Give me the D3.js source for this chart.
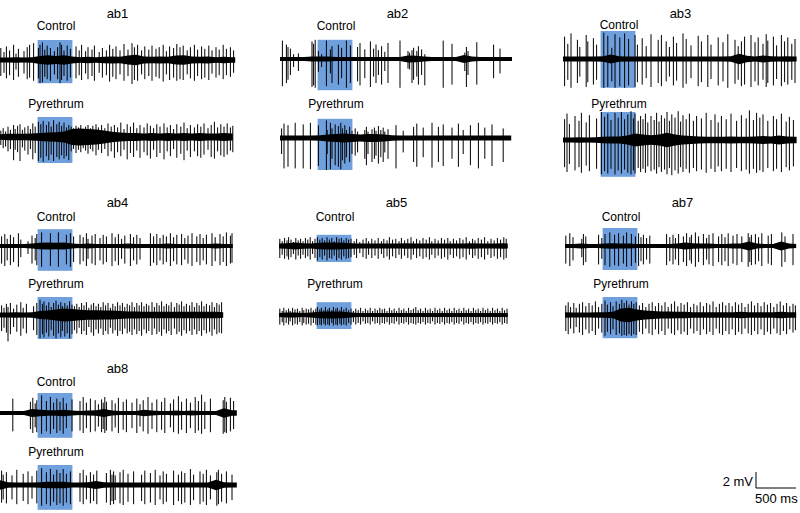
<!DOCTYPE html>
<html><head><meta charset="utf-8">
<script src="https://cdn.jsdelivr.net/npm/d3@7"></script>
<style>
body{margin:0;background:#fff}
svg{display:block}
text{font-family:"Liberation Sans",Arial,sans-serif;fill:#000}
</style>
</head><body><script>
// ---------------- DATA ----------------
// each spike: [time (s), positive peak (mV), negative peak (mV)]
// noise: half-width of baseline noise band (mV) sampled every 0.1 s
const panelNames = ["ab1","ab2","ab3","ab4","ab5","ab7","ab8"];
const conditionNames = ["Control","Pyrethrum"];
const stimWindow = [0.47, 0.905]; // s, highlighted window
const controlDuration   = [2.94,2.90,2.92,2.91,2.86,2.89,2.96];
const pyrethrumDuration = [2.91,2.89,2.92,2.79,2.86,2.89,2.96];
const controlBoxRange   = [[2.5,-2.9],[2.4,-3.9],[3.5,-3.6],[2.1,-3.1],[1.4,-2.0],[2.25,-3.0],[2.5,-3.1]];
const pyrethrumBoxRange = [[2.5,-3.25],[2.4,-4.0],[3.5,-4.6],[2.25,-3.0],[1.6,-1.75],[2.25,-2.9],[2.5,-3.1]];
const scaleBarMV = 2, scaleBarMS = 500;

const ab1CtrlSpikes = [[0.01,1.5,-2.0],[0.05,1.0,-1.6],[0.08,1.7,-2.3],[0.12,1.2,-1.9],[0.17,1.9,-2.5],[0.20,0.8,-1.2],[0.23,1.4,-2.1],[0.30,1.1,-1.7],[0.34,1.6,-2.4],[0.37,1.9,-2.2],[0.42,2.1,-2.6],[0.48,1.5,-2.3],[0.50,1.9,-2.9],[0.53,2.2,-2.8],[0.56,1.3,-2.1],[0.59,1.8,-2.4],[0.63,1.5,-2.6],[0.68,1.1,-1.8],[0.72,1.6,-2.4],[0.75,2.2,-2.9],[0.77,1.9,-2.5],[0.80,1.2,-2.0],[0.84,1.8,-2.6],[0.88,1.4,-2.2],[0.95,1.7,-2.3],[0.99,1.2,-1.9],[1.02,1.9,-2.5],[1.07,1.1,-1.7],[1.10,1.6,-2.4],[1.15,1.3,-2.0],[1.18,1.8,-2.6],[1.24,1.0,-1.6],[1.28,1.5,-2.2],[1.33,1.2,-1.9],[1.37,1.9,-2.7],[1.41,1.4,-2.1],[1.45,1.7,-2.4],[1.50,1.2,-1.8],[1.55,2.0,-2.6],[1.60,1.3,-2.0],[1.65,2.1,-3.0],[1.68,1.6,-2.5],[1.72,1.9,-2.6],[1.77,1.2,-1.8],[1.81,1.7,-2.4],[1.86,1.3,-2.0],[1.90,1.8,-2.6],[1.95,1.4,-2.1],[1.99,1.6,-2.3],[2.04,1.9,-2.7],[2.08,1.1,-1.8],[2.12,1.7,-2.5],[2.17,1.5,-2.2],[2.21,2.0,-2.6],[2.25,1.6,-2.4],[2.29,1.8,-2.5],[2.34,1.2,-1.8],[2.38,1.6,-2.3],[2.43,1.9,-2.6],[2.47,1.3,-2.0],[2.52,1.7,-2.4],[2.56,1.4,-2.2],[2.61,1.8,-2.5],[2.65,1.2,-1.7],[2.70,1.6,-2.2],[2.74,1.3,-1.9],[2.79,1.9,-2.4],[2.83,1.4,-1.9],[2.88,1.6,-2.1],[2.92,1.2,-1.6]];
const ab1CtrlNoise = [0.3,0.3,0.35,0.3,0.35,0.5,0.6,0.5,0.6,0.45,0.35,0.4,0.35,0.4,0.45,0.4,0.55,0.65,0.45,0.4,0.45,0.4,0.55,0.6,0.45,0.4,0.45,0.35,0.4,0.35];

const ab1PyrSpikes = [[0.01,0.8,-1.0],[0.04,1.1,-1.4],[0.07,0.7,-1.2],[0.10,1.3,-1.8],[0.13,0.9,-1.5],[0.17,1.5,-2.9],[0.19,1.0,-1.6],[0.22,1.4,-1.9],[0.25,1.6,-3.0],[0.28,0.9,-1.3],[0.31,1.2,-1.7],[0.35,1.4,-2.2],[0.38,1.0,-1.5],[0.41,1.7,-2.8],[0.44,1.3,-2.0],[0.48,1.9,-3.0],[0.51,1.6,-2.6],[0.54,2.0,-3.1],[0.58,1.5,-2.4],[0.61,1.9,-2.9],[0.64,1.3,-2.2],[0.67,2.1,-3.0],[0.71,1.6,-2.5],[0.74,1.9,-2.8],[0.77,1.4,-2.3],[0.80,1.8,-2.7],[0.83,1.2,-2.4],[0.86,1.5,-2.9],[0.89,1.3,-1.8],[0.92,1.1,-1.5],[0.95,1.4,-2.0],[0.98,1.2,-1.6],[1.01,1.5,-1.9],[1.04,1.0,-1.4],[1.07,1.3,-1.7],[1.10,1.5,-2.1],[1.13,1.1,-1.5],[1.16,1.4,-1.8],[1.20,1.6,-2.3],[1.23,1.2,-1.6],[1.27,1.5,-2.0],[1.31,1.1,-1.5],[1.35,1.7,-2.4],[1.39,1.3,-1.8],[1.43,1.5,-2.6],[1.47,1.2,-1.9],[1.51,1.8,-2.4],[1.55,1.0,-1.6],[1.59,1.6,-2.8],[1.63,1.3,-2.0],[1.67,1.8,-2.5],[1.71,1.1,-1.7],[1.75,1.5,-2.6],[1.80,1.2,-1.9],[1.84,1.7,-2.3],[1.88,1.4,-2.7],[1.92,1.1,-1.6],[1.96,1.6,-2.5],[2.00,1.3,-2.0],[2.05,1.7,-2.8],[2.09,1.2,-1.8],[2.13,1.5,-2.4],[2.17,1.0,-1.5],[2.21,1.6,-2.6],[2.26,1.3,-2.1],[2.30,1.8,-2.9],[2.34,1.1,-1.7],[2.38,1.5,-2.5],[2.43,1.2,-1.8],[2.47,1.6,-2.4],[2.51,1.3,-2.6],[2.55,1.7,-2.2],[2.60,1.1,-1.6],[2.64,1.5,-2.5],[2.68,1.9,-2.7],[2.72,1.2,-1.8],[2.76,1.6,-2.3],[2.80,1.3,-2.5],[2.84,1.7,-2.2],[2.88,1.2,-1.7],[2.91,1.4,-1.9]];
const ab1PyrNoise = [0.35,0.4,0.4,0.4,0.45,0.5,0.55,0.6,0.7,1.0,1.05,1.0,0.95,0.8,0.65,0.55,0.5,0.5,0.45,0.5,0.45,0.5,0.45,0.5,0.45,0.5,0.45,0.45,0.5,0.45];

const ab2CtrlSpikes = [[0.03,2.3,-3.4],[0.08,1.8,-3.0],[0.10,1.5,-2.6],[0.13,1.3,-2.0],[0.17,0.6,-1.0],[0.23,0.7,-1.5],[0.40,2.2,-3.5],[0.42,1.9,-3.3],[0.44,2.4,-3.6],[0.48,1.0,-1.6],[0.52,0.6,-1.0],[0.58,2.3,-3.4],[0.63,1.2,-1.8],[0.65,1.6,-3.0],[0.73,1.8,-3.2],[0.77,1.4,-2.4],[0.83,2.3,-3.6],[0.88,1.7,-3.0],[0.97,1.5,-2.8],[1.00,2.0,-3.3],[1.06,1.2,-2.4],[1.13,2.2,-3.5],[1.17,1.3,-2.2],[1.20,1.8,-3.0],[1.23,1.1,-2.0],[1.27,1.6,-3.2],[1.31,0.9,-1.5],[1.35,2.0,-3.0],[1.50,2.3,-3.6],[1.60,1.0,-1.2],[1.62,0.8,-1.3],[1.65,1.1,-3.0],[1.67,1.4,-2.6],[1.71,1.0,-2.2],[1.73,1.6,-3.2],[1.77,1.2,-2.0],[1.81,0.6,-3.3],[2.04,2.3,-3.6],[2.15,1.9,-3.2],[2.31,0.8,-1.5],[2.33,1.5,-3.5],[2.35,1.0,-2.0],[2.46,2.1,-3.2],[2.67,1.8,-2.4],[2.75,1.3,-1.8]];
const ab2CtrlNoise = [0.25,0.25,0.25,0.25,0.3,0.3,0.3,0.25,0.25,0.25,0.25,0.25,0.25,0.25,0.25,0.25,0.45,0.4,0.3,0.25,0.25,0.25,0.25,0.5,0.3,0.25,0.25,0.25,0.25,0.25];

const ab2PyrSpikes = [[0.02,1.2,-2.0],[0.05,1.8,-3.8],[0.10,1.6,-3.6],[0.19,1.9,-3.8],[0.29,1.7,-3.8],[0.38,1.9,-3.9],[0.48,1.6,-3.5],[0.58,2.2,-4.0],[0.59,1.0,-2.0],[0.63,1.9,-3.9],[0.65,1.2,-2.6],[0.69,1.7,-3.4],[0.73,1.5,-3.6],[0.76,1.9,-3.9],[0.78,1.2,-2.8],[0.81,1.6,-3.2],[0.83,1.0,-2.4],[0.87,1.4,-3.0],[0.90,0.9,-2.0],[0.94,1.2,-2.2],[0.97,0.8,-1.8],[1.06,1.0,-2.6],[1.08,1.4,-3.4],[1.10,0.8,-2.0],[1.15,1.1,-3.0],[1.18,1.3,-2.6],[1.20,0.9,-2.2],[1.23,1.5,-3.2],[1.26,1.0,-2.4],[1.29,1.3,-3.0],[1.31,0.8,-1.8],[1.35,1.1,-2.6],[1.45,1.6,-3.8],[1.54,0.9,-1.8],[1.67,1.4,-3.0],[1.71,1.8,-3.6],[1.79,1.3,-2.4],[1.90,1.9,-3.7],[1.98,1.4,-3.0],[2.04,1.7,-3.5],[2.15,1.3,-2.6],[2.23,1.8,-3.6],[2.29,1.0,-2.0],[2.38,1.6,-3.4],[2.48,1.9,-3.8],[2.56,1.3,-2.6],[2.65,1.7,-3.5],[2.79,1.2,-3.0]];
const ab2PyrNoise = [0.3,0.3,0.3,0.3,0.3,0.35,0.45,0.5,0.55,0.5,0.45,0.5,0.5,0.45,0.35,0.3,0.3,0.3,0.3,0.3,0.3,0.3,0.3,0.3,0.3,0.3,0.3,0.3,0.3,0.3];

const ab3CtrlSpikes = [[0.02,2.8,-3.4],[0.06,1.9,-2.6],[0.10,3.2,-3.6],[0.18,2.4,-3.0],[0.21,1.5,-2.2],[0.29,3.0,-3.5],[0.31,2.2,-2.9],[0.38,2.6,-3.2],[0.42,1.8,-2.6],[0.51,3.3,-3.6],[0.56,2.9,-3.5],[0.61,1.4,-2.8],[0.65,3.1,-3.6],[0.71,2.7,-3.4],[0.77,3.2,-3.6],[0.82,2.5,-3.3],[0.90,3.0,-3.5],[0.93,1.8,-2.9],[0.99,2.6,-3.2],[1.04,1.6,-2.4],[1.10,3.1,-3.5],[1.19,2.4,-3.0],[1.23,3.0,-3.4],[1.29,2.2,-2.8],[1.33,1.5,-2.2],[1.38,2.8,-3.3],[1.42,2.0,-2.7],[1.50,3.2,-3.6],[1.54,2.5,-3.1],[1.60,1.7,-2.4],[1.69,2.9,-3.4],[1.73,2.2,-2.9],[1.81,3.0,-3.5],[1.85,1.8,-2.5],[1.94,2.7,-3.3],[2.00,2.1,-2.8],[2.06,3.1,-3.6],[2.15,2.4,-3.1],[2.19,1.6,-2.6],[2.23,2.2,-3.4],[2.27,2.8,-3.2],[2.35,3.0,-3.5],[2.40,2.1,-2.8],[2.44,2.7,-3.3],[2.50,1.9,-2.6],[2.54,3.1,-3.5],[2.56,2.3,-3.0],[2.63,2.8,-3.3],[2.67,1.7,-2.5],[2.73,3.0,-3.4],[2.77,2.2,-2.9],[2.81,2.7,-3.2],[2.86,1.9,-2.6],[2.90,2.5,-3.0]];
const ab3CtrlNoise = [0.3,0.3,0.3,0.3,0.3,0.35,0.55,0.35,0.3,0.3,0.3,0.3,0.3,0.3,0.3,0.3,0.3,0.3,0.3,0.3,0.3,0.35,0.65,0.4,0.3,0.45,0.35,0.3,0.35,0.3];

const ab3PyrSpikes = [[0.02,2.6,-3.4],[0.05,3.3,-4.0],[0.08,2.0,-3.0],[0.15,3.0,-3.8],[0.20,2.4,-3.4],[0.23,3.4,-4.1],[0.29,2.2,-3.2],[0.33,3.1,-3.9],[0.42,2.7,-3.6],[0.48,3.5,-4.3],[0.52,2.9,-3.9],[0.56,3.3,-4.2],[0.60,2.5,-3.6],[0.65,3.4,-4.3],[0.69,2.8,-3.8],[0.73,3.5,-4.2],[0.77,2.6,-3.7],[0.81,3.2,-4.1],[0.85,3.6,-4.3],[0.88,2.7,-3.8],[0.90,3.3,-4.2],[0.94,2.4,-3.5],[0.97,3.0,-4.0],[1.00,2.6,-3.6],[1.03,3.3,-4.1],[1.06,2.2,-3.3],[1.10,3.0,-3.9],[1.14,2.5,-3.7],[1.17,3.4,-4.2],[1.20,2.3,-3.4],[1.23,3.1,-4.0],[1.27,2.7,-3.7],[1.30,3.5,-4.3],[1.33,2.4,-3.5],[1.36,3.2,-4.4],[1.40,2.8,-3.8],[1.44,3.6,-4.2],[1.47,2.3,-3.4],[1.50,3.1,-4.0],[1.54,2.6,-3.6],[1.58,3.3,-4.1],[1.63,2.4,-3.5],[1.67,3.0,-3.9],[1.73,2.7,-3.7],[1.79,3.4,-4.1],[1.85,2.5,-3.6],[1.90,3.2,-4.0],[1.94,2.2,-3.3],[1.98,3.0,-3.9],[2.04,2.6,-3.6],[2.10,3.3,-4.0],[2.17,2.4,-3.5],[2.23,3.1,-3.9],[2.29,2.7,-3.7],[2.33,3.7,-4.2],[2.38,2.5,-3.6],[2.42,3.4,-4.1],[2.46,2.8,-3.8],[2.50,3.2,-4.0],[2.56,2.4,-3.5],[2.63,3.0,-3.9],[2.67,2.6,-3.6],[2.73,3.3,-4.0],[2.79,2.3,-3.4],[2.83,2.9,-3.8],[2.88,2.5,-3.3]];
const ab3PyrNoise = [0.3,0.3,0.35,0.3,0.35,0.4,0.45,0.45,0.55,0.8,0.7,0.6,0.7,0.9,0.7,0.55,0.5,0.45,0.4,0.4,0.4,0.45,0.4,0.4,0.45,0.5,0.45,0.55,0.45,0.4];

const ab4CtrlSpikes = [[0.02,1.2,-2.2],[0.06,1.5,-2.5],[0.09,0.9,-1.8],[0.13,1.4,-2.4],[0.17,1.1,-2.0],[0.23,1.6,-2.6],[0.26,0.8,-1.4],[0.35,0.6,-1.0],[0.40,1.3,-2.2],[0.44,1.0,-1.8],[0.46,1.5,-2.4],[0.52,1.7,-2.6],[0.63,1.6,-2.5],[0.73,1.7,-2.6],[0.83,1.4,-2.3],[0.88,1.6,-2.6],[0.92,1.2,-2.0],[1.00,1.4,-2.3],[1.04,1.1,-1.9],[1.08,1.6,-2.5],[1.10,0.9,-1.6],[1.15,1.3,-2.2],[1.19,1.5,-2.4],[1.25,1.0,-1.8],[1.29,1.4,-2.3],[1.33,1.2,-2.0],[1.40,1.6,-2.5],[1.44,1.1,-1.9],[1.48,1.5,-2.4],[1.52,0.9,-1.6],[1.56,1.3,-2.2],[1.63,1.5,-2.5],[1.67,1.1,-1.8],[1.71,1.4,-2.3],[1.75,1.0,-1.7],[1.88,1.6,-2.5],[1.92,1.2,-2.1],[1.96,1.5,-2.4],[2.00,1.0,-1.8],[2.04,1.4,-2.3],[2.08,1.2,-2.0],[2.13,1.6,-2.5],[2.17,1.1,-1.9],[2.21,1.4,-2.3],[2.27,1.5,-2.4],[2.31,1.0,-1.7],[2.35,1.3,-2.2],[2.40,1.6,-2.5],[2.46,1.2,-2.0],[2.50,1.5,-2.4],[2.54,1.0,-1.8],[2.58,1.4,-2.3],[2.65,1.6,-2.5],[2.69,1.1,-1.9],[2.75,1.5,-2.4],[2.79,1.2,-2.0],[2.83,1.7,-2.5],[2.88,1.3,-2.2],[2.90,1.6,-2.1]];
const ab4CtrlNoise = [0.25,0.25,0.25,0.25,0.3,0.4,0.45,0.4,0.45,0.3,0.25,0.3,0.25,0.25,0.25,0.25,0.3,0.25,0.25,0.25,0.25,0.3,0.25,0.25,0.25,0.25,0.25,0.3,0.25,0.25];

const ab4PyrSpikes = [[0.02,1.2,-2.0],[0.05,0.9,-1.6],[0.08,1.4,-2.2],[0.10,1.0,-3.3],[0.13,1.5,-2.4],[0.17,0.8,-1.5],[0.21,1.3,-2.1],[0.26,1.6,-2.6],[0.29,0.9,-1.7],[0.33,1.4,-2.3],[0.42,1.1,-1.9],[0.46,1.5,-2.5],[0.50,1.9,-2.9],[0.53,1.4,-2.4],[0.55,1.7,-2.8],[0.58,1.2,-2.2],[0.61,1.6,-2.7],[0.64,1.0,-1.9],[0.67,1.5,-2.6],[0.70,1.8,-2.9],[0.73,1.3,-2.3],[0.76,1.6,-2.8],[0.78,1.1,-2.0],[0.81,1.5,-2.7],[0.84,1.2,-2.3],[0.87,1.7,-2.9],[0.90,1.3,-2.4],[0.93,1.1,-1.9],[0.96,1.4,-2.3],[0.99,1.0,-1.6],[1.02,1.5,-2.4],[1.05,1.2,-2.0],[1.08,1.6,-2.5],[1.11,0.9,-1.5],[1.14,1.3,-2.2],[1.17,1.5,-2.6],[1.20,1.1,-1.8],[1.23,1.4,-2.3],[1.26,1.0,-1.7],[1.29,1.6,-2.5],[1.32,1.2,-2.0],[1.35,1.5,-2.4],[1.38,0.9,-1.6],[1.41,1.4,-2.3],[1.44,1.1,-1.9],[1.47,1.6,-2.6],[1.50,1.2,-2.0],[1.53,1.5,-2.4],[1.56,1.0,-1.7],[1.59,1.4,-2.3],[1.62,1.2,-2.1],[1.65,1.6,-2.5],[1.68,1.0,-1.8],[1.71,1.5,-2.4],[1.74,1.2,-2.0],[1.77,1.6,-2.6],[1.80,1.1,-1.8],[1.83,1.4,-2.3],[1.86,1.2,-2.0],[1.90,1.6,-2.5],[1.93,1.0,-1.7],[1.96,1.5,-2.4],[1.99,1.2,-2.1],[2.02,1.7,-2.6],[2.05,1.1,-1.8],[2.08,1.4,-2.3],[2.11,1.2,-2.0],[2.14,1.6,-2.5],[2.18,1.0,-1.7],[2.21,1.5,-2.4],[2.24,1.3,-2.1],[2.27,1.7,-2.6],[2.30,1.1,-1.9],[2.33,1.4,-2.3],[2.37,1.2,-2.0],[2.40,1.6,-2.5],[2.43,1.0,-1.8],[2.46,1.5,-2.4],[2.49,1.2,-2.0],[2.52,1.7,-2.6],[2.55,1.1,-1.9],[2.58,1.4,-2.3],[2.62,1.2,-2.1],[2.65,1.6,-2.6],[2.68,1.0,-1.8],[2.71,1.5,-2.4],[2.74,1.3,-2.2],[2.77,1.6,-2.3]];
const ab4PyrNoise = [0.3,0.3,0.35,0.3,0.35,0.5,0.55,0.7,0.8,0.75,0.65,0.6,0.6,0.55,0.55,0.5,0.45,0.45,0.4,0.4,0.4,0.4,0.4,0.4,0.4,0.4,0.4,0.4,0.35,0.35];

const ab5CtrlSpikes = [[0.01,0.9,-1.5],[0.04,0.6,-1.1],[0.07,1.0,-1.6],[0.10,0.7,-1.3],[0.12,1.1,-1.7],[0.15,0.8,-1.4],[0.18,0.5,-1.0],[0.21,1.0,-1.7],[0.24,0.7,-1.2],[0.27,0.9,-1.6],[0.30,0.6,-1.1],[0.33,1.0,-1.5],[0.36,0.8,-1.3],[0.39,1.1,-1.7],[0.42,0.6,-1.0],[0.45,0.9,-1.5],[0.48,1.1,-1.8],[0.51,0.8,-1.4],[0.54,1.0,-1.7],[0.57,0.7,-1.2],[0.60,1.1,-1.8],[0.63,0.8,-1.5],[0.66,1.0,-1.6],[0.69,0.6,-1.2],[0.72,1.1,-1.8],[0.75,0.9,-1.5],[0.78,1.0,-1.7],[0.81,0.7,-1.3],[0.84,1.0,-1.6],[0.87,0.8,-1.5],[0.90,0.9,-1.4],[0.94,0.6,-1.1],[0.97,0.9,-1.5],[1.01,0.5,-0.9],[1.05,0.8,-1.4],[1.09,1.0,-1.6],[1.12,0.6,-1.1],[1.16,0.9,-1.5],[1.20,0.7,-1.2],[1.24,1.0,-1.6],[1.28,0.6,-1.0],[1.31,0.9,-1.5],[1.35,0.7,-1.3],[1.38,1.1,-1.7],[1.42,0.8,-1.3],[1.46,0.9,-1.5],[1.50,0.6,-1.1],[1.53,1.0,-1.6],[1.57,0.7,-1.2],[1.61,0.9,-1.5],[1.65,1.1,-1.7],[1.68,0.6,-1.1],[1.72,0.9,-1.5],[1.76,0.7,-1.3],[1.80,1.0,-1.6],[1.84,0.8,-1.4],[1.88,1.1,-1.7],[1.91,0.6,-1.1],[1.95,0.9,-1.5],[1.99,0.7,-1.2],[2.03,1.0,-1.6],[2.07,0.8,-1.4],[2.11,1.0,-1.7],[2.14,0.6,-1.1],[2.18,0.9,-1.5],[2.22,0.7,-1.3],[2.26,1.0,-1.6],[2.30,0.8,-1.4],[2.34,1.1,-1.7],[2.38,0.6,-1.1],[2.42,0.9,-1.5],[2.45,0.7,-1.2],[2.49,1.0,-1.6],[2.53,0.8,-1.4],[2.57,1.1,-1.7],[2.61,0.6,-1.1],[2.65,0.9,-1.5],[2.69,0.7,-1.3],[2.73,1.0,-1.6],[2.77,0.8,-1.4],[2.81,1.1,-1.7],[2.84,0.9,-1.5]];
const ab5CtrlNoise = [0.3,0.35,0.45,0.35,0.3,0.4,0.45,0.45,0.4,0.35,0.3,0.3,0.3,0.3,0.3,0.3,0.35,0.3,0.3,0.3,0.3,0.3,0.3,0.3,0.35,0.3,0.3,0.3,0.35,0.3];

const ab5PyrSpikes = [[0.01,0.8,-1.2],[0.04,0.5,-0.9],[0.06,0.9,-1.3],[0.09,0.6,-1.0],[0.12,0.8,-1.2],[0.14,0.5,-0.8],[0.17,0.9,-1.3],[0.20,0.7,-1.1],[0.23,0.8,-1.2],[0.26,0.5,-0.9],[0.29,0.9,-1.3],[0.31,0.6,-1.0],[0.34,0.8,-1.2],[0.37,0.7,-1.1],[0.40,0.9,-1.3],[0.43,0.6,-1.0],[0.46,0.8,-1.2],[0.48,1.0,-1.3],[0.51,0.7,-1.2],[0.53,0.9,-1.3],[0.56,0.6,-1.1],[0.58,1.0,-1.3],[0.61,0.7,-1.2],[0.63,0.9,-1.3],[0.66,0.6,-1.0],[0.68,1.0,-1.3],[0.71,0.8,-1.2],[0.73,0.9,-1.3],[0.76,0.6,-1.1],[0.78,1.0,-1.3],[0.81,0.7,-1.2],[0.84,0.9,-1.3],[0.87,0.6,-1.0],[0.90,0.8,-1.2],[0.93,0.5,-0.9],[0.96,0.8,-1.2],[0.99,0.6,-1.0],[1.02,0.9,-1.2],[1.05,0.5,-0.8],[1.08,0.8,-1.1],[1.11,0.6,-1.0],[1.14,0.9,-1.2],[1.17,0.5,-0.8],[1.20,0.8,-1.1],[1.23,0.6,-1.0],[1.26,0.9,-1.2],[1.29,0.7,-1.0],[1.32,0.8,-1.1],[1.35,0.5,-0.9],[1.38,0.9,-1.2],[1.41,0.6,-1.0],[1.44,0.8,-1.1],[1.47,0.5,-0.8],[1.50,0.9,-1.2],[1.53,0.6,-1.0],[1.56,0.8,-1.1],[1.59,0.5,-0.9],[1.62,0.9,-1.2],[1.65,0.6,-1.0],[1.68,0.8,-1.1],[1.71,1.0,-1.2],[1.74,0.6,-1.0],[1.77,0.8,-1.1],[1.80,0.5,-0.9],[1.83,0.9,-1.2],[1.86,0.6,-1.0],[1.89,0.8,-1.1],[1.92,0.5,-0.8],[1.95,0.9,-1.2],[1.98,0.6,-1.0],[2.01,0.8,-1.1],[2.04,0.5,-0.9],[2.07,0.9,-1.2],[2.10,0.6,-1.0],[2.13,0.8,-1.1],[2.16,0.5,-0.9],[2.19,0.9,-1.2],[2.22,0.6,-1.0],[2.25,0.8,-1.1],[2.28,0.5,-0.8],[2.31,0.9,-1.2],[2.34,0.6,-1.0],[2.37,0.8,-1.1],[2.40,0.5,-0.9],[2.43,0.9,-1.2],[2.46,0.6,-1.0],[2.49,0.8,-1.1],[2.52,0.5,-0.9],[2.55,0.9,-1.2],[2.58,0.6,-1.0],[2.61,0.8,-1.1],[2.64,0.5,-0.9],[2.67,0.9,-1.2],[2.70,0.6,-1.0],[2.73,0.8,-1.1],[2.76,0.5,-0.9],[2.79,0.9,-1.2],[2.82,0.6,-1.0],[2.85,0.8,-1.1]];
const ab5PyrNoise = [0.25,0.3,0.3,0.25,0.3,0.4,0.45,0.45,0.4,0.3,0.25,0.25,0.25,0.25,0.25,0.25,0.25,0.25,0.25,0.25,0.25,0.25,0.25,0.25,0.25,0.25,0.25,0.25,0.25,0.25];

const ab7CtrlSpikes = [[0.01,1.3,-2.2],[0.06,1.6,-2.5],[0.10,1.1,-1.8],[0.21,0.9,-1.4],[0.23,1.5,-2.4],[0.26,1.2,-2.0],[0.42,1.4,-2.3],[0.46,1.0,-1.6],[0.50,1.5,-2.4],[0.56,1.7,-2.6],[0.62,1.4,-2.4],[0.67,1.6,-2.5],[0.73,1.3,-2.2],[0.77,1.7,-2.6],[0.83,1.5,-2.5],[0.88,1.2,-2.1],[0.92,1.6,-2.5],[0.95,1.1,-1.9],[0.98,1.4,-2.3],[1.02,1.0,-1.7],[1.06,1.3,-2.2],[1.27,1.5,-2.4],[1.31,1.1,-1.9],[1.35,1.4,-2.3],[1.38,1.0,-1.7],[1.42,1.5,-2.4],[1.48,1.2,-2.0],[1.52,1.6,-2.5],[1.56,1.1,-1.8],[1.58,1.4,-2.2],[1.63,1.7,-2.6],[1.67,1.2,-2.0],[1.73,1.5,-2.4],[1.77,1.0,-1.7],[1.80,1.4,-2.3],[1.85,1.6,-2.5],[1.92,1.2,-2.0],[1.96,1.5,-2.4],[2.00,1.1,-1.9],[2.04,1.6,-2.5],[2.10,1.3,-2.2],[2.15,1.5,-2.4],[2.21,1.2,-2.0],[2.29,1.6,-2.6],[2.31,1.1,-2.0],[2.33,1.4,-2.4],[2.38,1.5,-2.3],[2.42,1.1,-1.9],[2.46,1.6,-2.5],[2.54,1.3,-2.2],[2.58,1.5,-2.4],[2.71,1.7,-2.6],[2.75,1.2,-2.0],[2.85,1.5,-2.4]];
const ab7CtrlNoise = [0.25,0.25,0.3,0.25,0.25,0.3,0.35,0.3,0.3,0.25,0.25,0.25,0.25,0.25,0.3,0.45,0.35,0.3,0.3,0.25,0.25,0.3,0.3,0.55,0.3,0.25,0.25,0.55,0.3,0.25];

const ab7PyrSpikes = [[0.01,1.2,-2.0],[0.04,1.6,-2.4],[0.07,1.0,-1.7],[0.11,1.5,-2.3],[0.14,0.9,-1.5],[0.18,1.4,-2.2],[0.22,1.6,-2.5],[0.26,1.1,-1.8],[0.30,1.5,-2.3],[0.34,1.2,-2.0],[0.38,1.7,-2.5],[0.42,1.0,-1.7],[0.46,1.4,-2.2],[0.50,1.8,-2.6],[0.53,1.3,-2.1],[0.57,1.6,-2.4],[0.60,1.1,-1.8],[0.64,1.7,-2.5],[0.68,1.4,-2.3],[0.71,1.9,-2.6],[0.74,1.5,-2.5],[0.77,1.8,-2.6],[0.80,1.3,-2.4],[0.83,1.7,-2.6],[0.86,1.4,-2.4],[0.89,1.6,-2.5],[0.93,1.2,-2.1],[0.97,1.5,-2.4],[1.01,1.0,-1.7],[1.05,1.4,-2.3],[1.09,1.6,-2.5],[1.13,1.1,-1.8],[1.17,1.5,-2.4],[1.21,1.2,-2.0],[1.25,1.6,-2.5],[1.29,1.0,-1.7],[1.33,1.4,-2.3],[1.37,1.7,-2.5],[1.41,1.1,-1.9],[1.45,1.5,-2.4],[1.49,1.3,-2.1],[1.53,1.6,-2.5],[1.57,1.0,-1.7],[1.61,1.4,-2.3],[1.65,1.2,-2.0],[1.69,1.6,-2.5],[1.73,1.1,-1.8],[1.77,1.5,-2.4],[1.81,1.3,-2.1],[1.85,1.7,-2.5],[1.89,1.0,-1.7],[1.93,1.4,-2.3],[1.97,1.6,-2.5],[2.01,1.2,-2.0],[2.05,1.5,-2.4],[2.09,1.1,-1.8],[2.13,1.6,-2.5],[2.17,1.3,-2.1],[2.21,1.5,-2.4],[2.25,1.0,-1.7],[2.29,1.4,-2.3],[2.33,1.7,-2.5],[2.37,1.2,-2.0],[2.41,1.5,-2.4],[2.45,1.1,-1.8],[2.49,1.6,-2.5],[2.53,1.3,-2.1],[2.57,1.5,-2.4],[2.61,1.0,-1.7],[2.65,1.4,-2.3],[2.69,1.7,-2.5],[2.73,1.2,-2.0],[2.77,1.5,-2.4],[2.81,1.1,-1.8],[2.85,1.4,-2.2],[2.88,1.2,-1.9]];
const ab7PyrNoise = [0.35,0.3,0.3,0.3,0.35,0.35,0.4,0.8,0.9,0.7,0.55,0.5,0.45,0.45,0.4,0.4,0.35,0.35,0.35,0.35,0.35,0.35,0.4,0.35,0.35,0.35,0.35,0.4,0.35,0.35];

const ab8CtrlSpikes = [[0.16,1.8,-2.3],[0.38,1.4,-2.0],[0.41,1.9,-2.5],[0.44,1.2,-1.8],[0.46,1.6,-2.4],[0.52,2.2,-2.6],[0.58,1.5,-2.3],[0.63,2.0,-2.6],[0.67,1.3,-2.0],[0.71,1.8,-2.5],[0.75,1.4,-2.2],[0.79,1.9,-2.6],[0.83,1.2,-1.9],[0.90,1.7,-2.3],[1.00,1.5,-2.2],[1.04,2.0,-2.5],[1.08,1.3,-1.9],[1.13,1.8,-2.4],[1.19,1.6,-2.3],[1.23,1.1,-1.7],[1.27,1.7,-2.4],[1.29,1.3,-2.0],[1.31,2.0,-2.5],[1.33,1.4,-2.2],[1.40,1.6,-2.3],[1.44,1.2,-1.8],[1.48,1.9,-2.5],[1.54,1.4,-2.1],[1.58,1.7,-2.4],[1.65,1.3,-1.9],[1.71,1.8,-2.5],[1.75,1.1,-1.7],[1.79,1.6,-2.3],[1.85,2.0,-2.6],[1.90,1.3,-2.0],[1.96,1.7,-2.4],[2.02,1.4,-2.1],[2.06,1.9,-2.5],[2.13,1.2,-1.8],[2.17,1.7,-2.4],[2.23,2.1,-2.6],[2.27,1.4,-2.1],[2.33,1.8,-2.5],[2.38,1.3,-1.9],[2.44,2.0,-2.5],[2.48,1.5,-2.2],[2.52,2.3,-2.6],[2.56,1.4,-2.0],[2.63,1.8,-2.4],[2.79,1.6,-2.6],[2.81,2.0,-2.4],[2.83,1.4,-2.5],[2.88,1.9,-2.3],[2.92,1.5,-2.0]];
const ab8CtrlNoise = [0.25,0.25,0.25,0.25,0.5,0.4,0.35,0.35,0.4,0.3,0.25,0.3,0.35,0.5,0.3,0.25,0.25,0.25,0.4,0.3,0.25,0.25,0.3,0.25,0.3,0.25,0.25,0.25,0.6,0.35];

const ab8PyrSpikes = [[0.02,1.8,-2.2],[0.04,1.3,-1.8],[0.08,1.6,-2.3],[0.15,1.2,-1.8],[0.21,1.9,-2.4],[0.29,1.4,-2.0],[0.35,1.7,-2.4],[0.40,1.1,-1.7],[0.46,1.8,-2.3],[0.52,2.1,-2.6],[0.58,1.6,-2.4],[0.63,2.0,-2.6],[0.67,1.3,-2.1],[0.71,1.9,-2.5],[0.75,1.5,-2.3],[0.79,2.0,-2.6],[0.83,1.4,-2.2],[0.88,1.7,-2.4],[1.00,1.5,-2.1],[1.04,1.9,-2.4],[1.08,1.2,-1.8],[1.13,1.6,-2.3],[1.17,1.3,-2.0],[1.21,1.8,-2.4],[1.33,1.5,-2.2],[1.38,1.9,-2.5],[1.40,1.3,-2.0],[1.42,1.7,-2.4],[1.44,1.2,-1.9],[1.50,1.6,-2.3],[1.54,1.9,-2.5],[1.60,1.4,-2.1],[1.67,1.7,-2.4],[1.77,1.3,-2.0],[1.81,1.8,-2.4],[1.88,1.5,-2.2],[1.94,1.9,-2.5],[2.00,1.2,-1.8],[2.04,1.7,-2.4],[2.08,1.4,-2.1],[2.17,1.8,-2.5],[2.23,1.3,-2.0],[2.27,1.7,-2.4],[2.31,1.5,-2.2],[2.38,2.0,-2.5],[2.42,1.3,-1.9],[2.50,1.7,-2.4],[2.54,1.4,-2.1],[2.58,1.9,-2.5],[2.63,1.2,-1.8],[2.71,1.6,-2.6],[2.73,1.9,-2.4],[2.77,1.4,-2.1],[2.83,1.7,-2.3],[2.90,1.3,-1.9]];
const ab8PyrNoise = [0.6,0.35,0.3,0.3,0.3,0.35,0.4,0.4,0.4,0.3,0.3,0.35,0.5,0.35,0.3,0.3,0.3,0.3,0.3,0.3,0.3,0.3,0.3,0.3,0.3,0.3,0.3,0.65,0.35,0.3];

// ---------------- LAYOUT ----------------
const W = 800, H = 513;
const PX_PER_S = 80, PX_PER_MV = 8;
const BOX_COLOR = "#6f9fdc";
const layout = [
  {x0:0,   baseC:60,  baseP:137, titleY:18,  labelCY:30,  labelPY:108},
  {x0:280, baseC:59,  baseP:138, titleY:18,  labelCY:30,  labelPY:108},
  {x0:563, baseC:59,  baseP:140, titleY:18,  labelCY:29,  labelPY:108},
  {x0:0,   baseC:246, baseP:315, titleY:207, labelCY:221, labelPY:288},
  {x0:279, baseC:246, baseP:315, titleY:207, labelCY:221, labelPY:288},
  {x0:565, baseC:246, baseP:315, titleY:207, labelCY:221, labelPY:288},
  {x0:0,   baseC:413, baseP:485, titleY:373, labelCY:386, labelPY:456}
];
const ctrlSpikes = [ab1CtrlSpikes,ab2CtrlSpikes,ab3CtrlSpikes,ab4CtrlSpikes,ab5CtrlSpikes,ab7CtrlSpikes,ab8CtrlSpikes];
const ctrlNoise  = [ab1CtrlNoise,ab2CtrlNoise,ab3CtrlNoise,ab4CtrlNoise,ab5CtrlNoise,ab7CtrlNoise,ab8CtrlNoise];
const pyrSpikes  = [ab1PyrSpikes,ab2PyrSpikes,ab3PyrSpikes,ab4PyrSpikes,ab5PyrSpikes,ab7PyrSpikes,ab8PyrSpikes];
const pyrNoise   = [ab1PyrNoise,ab2PyrNoise,ab3PyrNoise,ab4PyrNoise,ab5PyrNoise,ab7PyrNoise,ab8PyrNoise];

const svg = d3.select("body").append("svg").attr("width", W).attr("height", H);

function drawTrace(parent, x0, base, spikes, noise, dur, boxRange) {
  const g = parent.append("g");
  const x = d3.scaleLinear().domain([0, dur]).range([x0, x0 + dur * PX_PER_S]);
  const y = d3.scaleLinear().domain([-1, 1]).range([base + PX_PER_MV, base - PX_PER_MV]);
  g.append("rect")
    .attr("x", x(stimWindow[0])).attr("width", x(stimWindow[1]) - x(stimWindow[0]))
    .attr("y", y(boxRange[0])).attr("height", y(boxRange[1]) - y(boxRange[0]))
    .attr("fill", BOX_COLOR);
  const env = noise.map((v, i) => [i * 0.1, v]).filter(d => d[0] <= dur);
  env.push([dur, noise[noise.length - 1]]);
  g.append("path").datum(env)
    .attr("d", d3.area().x(d => x(d[0])).y0(d => y(-d[1])).y1(d => y(d[1])).curve(d3.curveLinear))
    .attr("fill", "#000");
  g.append("g").selectAll("line").data(spikes).join("line")
    .attr("x1", d => x(d[0])).attr("x2", d => x(d[0]))
    .attr("y1", d => y(d[1])).attr("y2", d => y(d[2]))
    .attr("stroke", "#000").attr("stroke-width", 1);
  return x;
}

panelNames.forEach((name, i) => {
  const L = layout[i];
  const g = svg.append("g");
  const xc = drawTrace(g, L.x0, L.baseC, ctrlSpikes[i], ctrlNoise[i], controlDuration[i], controlBoxRange[i]);
  drawTrace(g, L.x0, L.baseP, pyrSpikes[i], pyrNoise[i], pyrethrumDuration[i], pyrethrumBoxRange[i]);
  const boxMid = xc((stimWindow[0] + stimWindow[1]) / 2) + 1;
  g.append("text").attr("x", L.x0 + 117.5).attr("y", L.titleY).attr("text-anchor", "middle")
    .attr("font-size", 13).text(name);
  g.append("text").attr("x", boxMid).attr("y", L.labelCY).attr("text-anchor", "middle")
    .attr("font-size", 12).text(conditionNames[0]);
  g.append("text").attr("x", boxMid).attr("y", L.labelPY).attr("text-anchor", "middle")
    .attr("font-size", 12).text(conditionNames[1]);
});

// scale bar
const sbx = d3.scaleLinear().domain([0, 1000]).range([756, 756 + PX_PER_S]);
const sby = d3.scaleLinear().domain([0, 1]).range([488, 488 - PX_PER_MV]);
const sb = svg.append("g");
sb.append("path")
  .attr("d", `M${sbx(0)},${sby(scaleBarMV)}V${sby(0)}H${sbx(scaleBarMS)}`)
  .attr("fill", "none").attr("stroke", "#000").attr("stroke-width", 1);
sb.append("text").attr("x", sbx(0) - 3).attr("y", 486).attr("text-anchor", "end")
  .attr("font-size", 13).text(scaleBarMV + " mV");
sb.append("text").attr("x", sbx(0) - 1).attr("y", 503).attr("text-anchor", "start")
  .attr("font-size", 13).text(scaleBarMS + " ms");
</script></body></html>
